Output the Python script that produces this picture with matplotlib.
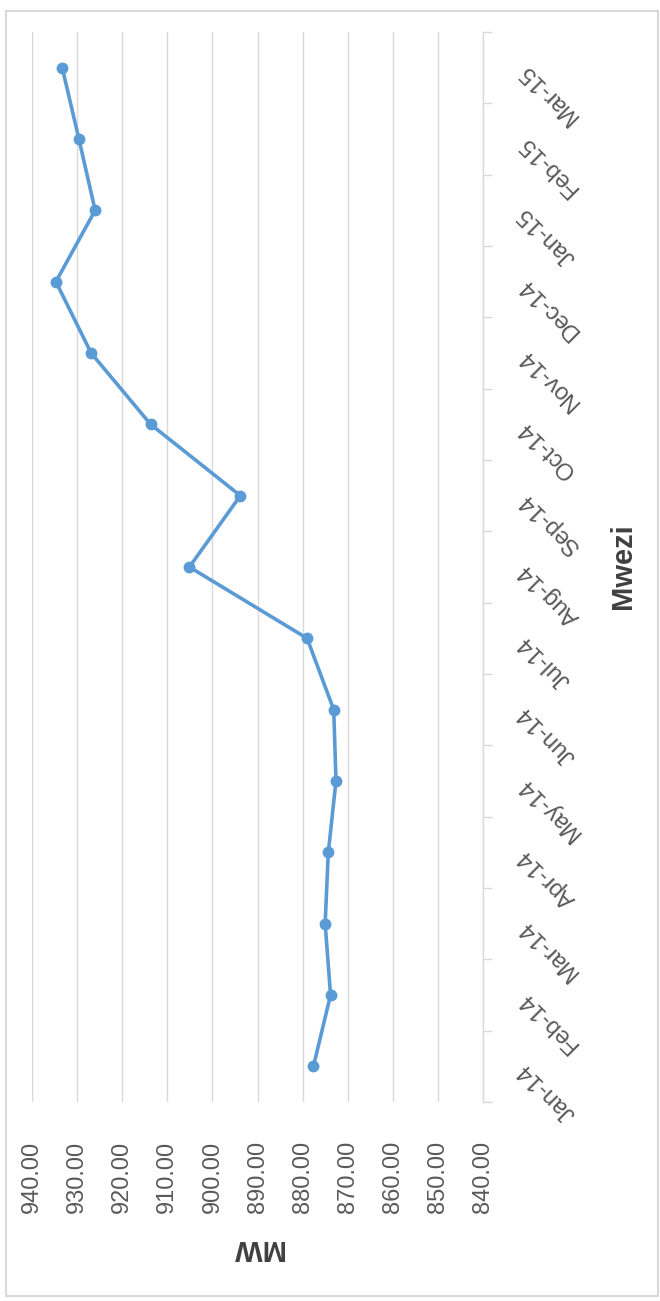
import matplotlib
matplotlib.use("Agg")
import matplotlib.pyplot as plt
from matplotlib.patches import Rectangle

months = ["Jan-14", "Feb-14", "Mar-14", "Apr-14", "May-14", "Jun-14", "Jul-14",
          "Aug-14", "Sep-14", "Oct-14", "Nov-14", "Dec-14", "Jan-15", "Feb-15", "Mar-15"]
mw = [877.6, 873.8, 875.0, 874.3, 872.6, 873.1, 879.0,
      905.1, 893.8, 913.7, 926.9, 934.7, 926.0, 929.6, 933.3]
value_ticks = [940, 930, 920, 910, 900, 890, 880, 870, 860, 850, 840]

LINE = "#5B9BD5"
GRID = "#D9D9D9"
TEXT = "#595959"

plt.rcParams["font.family"] = ["Liberation Sans", "DejaVu Sans"]

W, H = 660, 1301
fig = plt.figure(figsize=(W / 100, H / 100), dpi=100)
ax = fig.add_axes([32 / W, 1 - 1102 / H, (483 - 32) / W, (1102 - 32) / H])

pos = list(range(len(months)))
ax.plot(mw, pos, color=LINE, lw=2.6, marker="o", markersize=7.5,
        solid_capstyle="round", zorder=3)

# value axis (runs right to left, labels at bottom)
ax.set_xlim(940, 840)
ax.set_xticks(value_ticks)
ax.set_xticklabels([f"{v:.2f}" for v in value_ticks], rotation=90,
                   fontsize=17, color=TEXT)
ax.tick_params(axis="x", length=0, pad=28)
ax.grid(axis="x", color=GRID, lw=1.0)

# category axis on the right
ax.set_ylim(-0.5, len(months) - 0.5)
ax.yaxis.tick_right()
ax.set_yticks(pos)
ax.set_yticks([p - 0.5 for p in pos] + [len(months) - 0.5], minor=True)
ax.tick_params(axis="y", which="major", length=0, pad=28)
ax.tick_params(axis="y", which="minor", length=6.5, color=GRID, width=1.0,
               direction="out")
ax.set_yticklabels(months, fontsize=17, color=TEXT)
for lab in ax.get_yticklabels():
    lab.set_rotation(135)
    lab.set_rotation_mode("anchor")
    lab.set_ha("right")
    lab.set_va("center")

for side in ["top", "bottom", "left"]:
    ax.spines[side].set_visible(False)
ax.spines["right"].set_color(GRID)
ax.spines["right"].set_linewidth(1.0)
ax.set_axisbelow(True)

# axis titles
fig.text(257 / W, 1 - 1248 / H, "MW", rotation=180, fontsize=21,
         fontweight="bold", color="#404040", ha="center", va="center")
fig.text(623 / W, 1 - 566 / H, "Mwezi", rotation=90, fontsize=21,
         fontweight="bold", color="#404040", ha="center", va="center")

# chart area border
fig.patches.append(Rectangle((6 / W, 1 - 1296 / H), (658 - 6) / W, (1296 - 11) / H,
                             transform=fig.transFigure, fill=False,
                             edgecolor=GRID, lw=1.5))

fig.savefig("out.png", dpi=100, facecolor="white")
